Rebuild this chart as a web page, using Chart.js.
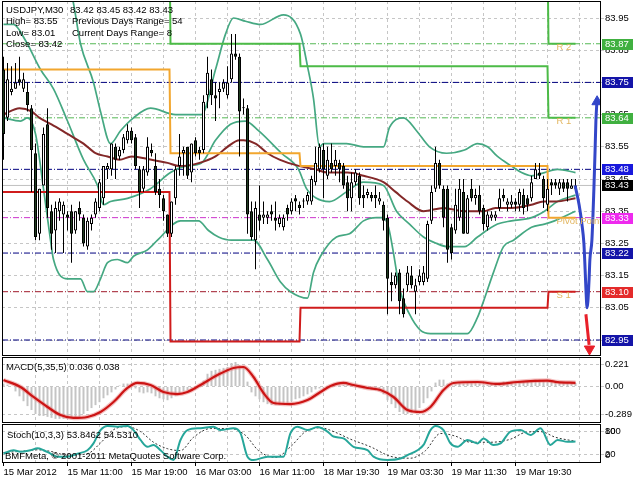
<!DOCTYPE html>
<html>
<head>
<meta charset="utf-8">
<title>USDJPY,M30</title>
<script src="https://cdn.jsdelivr.net/npm/chart.js@4.4.1/dist/chart.umd.min.js"></script>
<style>
html,body{margin:0;padding:0;background:#fff;}
body{width:640px;height:480px;position:relative;overflow:hidden;}
canvas{position:absolute;left:0;display:block;}
#c1{top:0}
#c2{top:356px}
#c3{top:423px}
</style>
</head>
<body>
<canvas id="c1" width="640" height="357"></canvas>
<canvas id="c2" width="640" height="67"></canvas>
<canvas id="c3" width="640" height="57"></canvas>
<script>
// ================= DATA =================
const opens = [83.79,83.64,83.72,83.73,83.76,83.73,83.72,83.67,83.53,83.28,
83.43,83.62,83.35,83.29,83.35,83.34,83.34,83.35,83.29,83.36,
83.33,83.24,83.31,83.34,83.36,83.39,83.48,83.48,83.55,83.52,
83.54,83.57,83.60,83.58,83.48,83.42,83.47,83.54,83.49,83.42,
83.39,83.34,83.28,83.39,83.49,83.53,83.55,83.47,83.57,83.54,
83.54,83.71,83.76,83.71,83.72,83.73,83.71,83.76,83.84,83.83,
83.67,83.67,83.35,83.26,83.34,83.33,83.33,83.35,83.33,83.31,
83.30,83.36,83.35,83.39,83.37,83.38,83.38,83.38,83.44,83.48,
83.54,83.46,83.50,83.49,83.50,83.49,83.44,83.39,83.44,83.46,
83.40,83.40,83.40,83.40,83.38,83.37,83.33,83.13,83.12,83.16,
83.08,83.12,83.15,83.10,83.13,83.13,83.14,83.32,83.42,83.50,
83.42,83.42,83.30,83.29,83.33,83.41,83.28,83.42,83.39,83.40,
83.36,83.30,83.33,83.33,83.36,83.40,83.37,83.37,83.38,83.37,
83.40,83.39,83.39,83.45,83.47,83.45,83.37,83.44,83.44,83.42,
83.44,83.44,83.42,83.42];
const highs = [83.83,83.81,83.80,83.81,83.83,83.78,83.75,83.68,83.56,83.42,
83.61,83.67,83.37,83.38,83.39,83.38,83.35,83.37,83.35,83.38,
83.34,83.33,83.34,83.39,83.45,83.49,83.50,83.56,83.56,83.55,
83.59,83.62,83.61,83.59,83.49,83.49,83.58,83.56,83.53,83.45,
83.40,83.34,83.38,83.49,83.59,83.55,83.55,83.56,83.58,83.55,
83.71,83.83,83.79,83.75,83.75,83.76,83.80,83.90,83.90,83.84,
83.70,83.68,83.38,83.38,83.43,83.38,83.35,83.37,83.38,83.34,
83.34,83.37,83.39,83.40,83.38,83.39,83.41,83.46,83.55,83.56,
83.56,83.55,83.56,83.54,83.51,83.50,83.46,83.47,83.48,83.47,
83.43,83.42,83.41,83.43,83.41,83.38,83.34,83.16,83.16,83.17,
83.11,83.18,83.18,83.14,83.17,83.18,83.32,83.43,83.55,83.51,
83.43,83.43,83.31,83.42,83.45,83.45,83.40,83.45,83.42,83.43,
83.37,83.35,83.35,83.35,83.42,83.42,83.39,83.40,83.39,83.42,
83.42,83.40,83.46,83.50,83.50,83.46,83.45,83.45,83.45,83.45,
83.45,83.45,83.45,83.45];
const lows = [83.51,83.63,83.71,83.73,83.74,83.72,83.66,83.41,83.26,83.26,
83.43,83.33,83.23,83.22,83.32,83.22,83.29,83.19,83.28,83.32,
83.24,83.23,83.29,83.33,83.35,83.37,83.45,83.46,83.45,83.51,
83.53,83.56,83.56,83.48,83.36,83.41,83.46,83.52,83.40,83.36,
83.32,83.27,83.27,83.37,83.46,83.46,83.45,83.44,83.52,83.51,
83.53,83.67,83.68,83.63,83.67,83.72,83.70,83.75,83.82,83.52,
83.65,83.28,83.26,83.17,83.29,83.31,83.31,83.32,83.29,83.30,
83.29,83.32,83.34,83.35,83.34,83.36,83.37,83.37,83.43,83.47,
83.39,83.45,83.47,83.46,83.44,83.42,83.35,83.35,83.43,83.37,
83.36,83.39,83.38,83.36,83.37,83.29,83.03,83.07,83.11,83.03,
83.02,83.10,83.11,83.03,83.12,83.12,83.13,83.31,83.41,83.42,
83.30,83.19,83.20,83.28,83.32,83.28,83.28,83.38,83.37,83.34,
83.29,83.29,83.32,83.32,83.35,83.38,83.35,83.36,83.35,83.35,
83.34,83.35,83.38,83.45,83.45,83.36,83.35,83.40,83.42,83.40,
83.41,83.38,83.42,83.42];
const closes = [83.59,83.76,83.73,83.75,83.75,83.76,83.68,83.54,83.27,83.42,
83.59,83.36,83.28,83.36,83.38,83.37,83.33,83.28,83.35,83.34,
83.25,83.32,83.33,83.38,83.44,83.49,83.49,83.56,83.51,83.54,
83.58,83.60,83.57,83.49,83.41,83.48,83.55,83.53,83.41,83.40,
83.35,83.28,83.38,83.48,83.52,83.54,83.46,83.56,83.53,83.53,
83.69,83.78,83.71,83.70,83.73,83.75,83.75,83.84,83.83,83.66,
83.67,83.34,83.27,83.36,83.32,83.34,83.34,83.34,83.32,83.33,
83.33,83.34,83.38,83.38,83.36,83.38,83.40,83.45,83.50,83.55,
83.48,83.51,83.48,83.51,83.48,83.43,83.39,83.44,83.47,83.39,
83.39,83.41,83.39,83.39,83.39,83.32,83.14,83.12,83.15,83.07,
83.03,83.16,83.12,83.12,83.15,83.16,83.31,83.41,83.50,83.43,
83.33,83.23,83.22,83.37,83.42,83.28,83.39,83.39,83.40,83.35,
83.31,83.34,83.34,83.34,83.39,83.39,83.38,83.38,83.37,83.41,
83.36,83.37,83.44,83.48,83.46,83.39,83.42,83.43,83.43,83.44,
83.42,83.42,83.43,83.43];

const timeLabels = ['15 Mar 2012','15 Mar 11:00','15 Mar 19:00','16 Mar 03:00','16 Mar 11:00',
                    '18 Mar 19:30','19 Mar 03:30','19 Mar 11:30','19 Mar 19:30'];
const labelBars = [0,16,32,48,64,80,96,112,128];
const gridBars = [0,8,16,24,32,40,48,56,64,72,80,88,96,104,112,120,128,136,144];
const priceTicks = [83.95,83.85,83.75,83.65,83.55,83.45,83.35,83.25,83.15,83.05,82.95];

// moving average (dark red)
const maAt = [0,4,7,9,12,16,20,23,26,29,32,37,41,44,49,53,56,59,60,63,66,69,74,78,81,86,90,95,98,101,105,110,115,120,123,127,132,135,138,143];
const ma = [83.65,83.67,83.66,83.64,83.62,83.59,83.56,83.53,83.52,83.51,83.52,83.51,83.50,83.49,83.50,83.52,83.55,83.57,83.57,83.56,
83.53,83.51,83.49,83.48,83.47,83.47,83.46,83.44,83.41,83.38,83.35,83.36,83.35,83.35,83.36,83.36,83.37,83.38,83.38,83.39];

// Bollinger bands
const bbUpperAt = [14,17.25,19.25,22.5,24.25,26.75,29.25,32.5,36.75,43,49.5,53,55.5,57.5,60.5,64.25,70,74.25,76,77.5,
79,80,85.75,90,95,96.5,100,103.25,106.5,110.75,115.25,118.5,121,123.5,127,129.5,132,135.25,138.5,143];
const bbUpper = [84.12,84.01,83.87,83.75,83.66,83.56,83.60,83.64,83.67,83.65,83.65,83.79,83.90,83.95,83.94,83.93,83.96,83.90,83.80,83.70,
83.55,83.56,83.56,83.55,83.55,83.61,83.64,83.60,83.55,83.53,83.54,83.56,83.55,83.52,83.49,83.47,83.46,83.47,83.48,83.47];
const bbMidAt = [0,2.5,5.5,9.25,12.5,16,20,23.5,25,26.75,31,36.75,41.75,45.5,49.5,53,56.75,60.5,63.75,69.5,
73.75,75.75,78.25,81.5,85.75,90,95,98.25,101.5,105,108.25,111,115.25,118.5,123.5,127,132,135.25,138.5,143];
const bbMid = [83.93,83.93,83.88,83.79,83.73,83.63,83.51,83.43,83.37,83.38,83.39,83.42,83.47,83.49,83.50,83.57,83.62,83.63,83.60,83.53,
83.48,83.42,83.39,83.38,83.41,83.44,83.43,83.35,83.31,83.27,83.25,83.24,83.24,83.27,83.31,83.32,83.33,83.35,83.38,83.40];
const bbLowerAt = [0,4.25,6,8,10,11.75,12.5,16,19.25,21,22.5,24.25,26,28.5,31,32.5,36,38.5,44.25,48.75,
51.25,53.75,57,62.5,66,69.25,71.75,76,77.5,79.25,83.25,86.5,90,93.25,95,96.25,97.5,99,101.5,104.25,
106.75,116,118.5,120,122.5,125,127.5,132,135.25,137.75,143];
const bbLower = [83.64,83.63,83.64,83.59,83.42,83.26,83.20,83.14,83.14,83.10,83.10,83.14,83.19,83.20,83.19,83.21,83.23,83.26,83.32,83.32,
83.29,83.27,83.26,83.26,83.20,83.13,83.10,83.08,83.16,83.21,83.27,83.28,83.32,83.33,83.33,83.30,83.22,83.11,83.03,82.98,
82.97,82.97,83.02,83.07,83.16,83.24,83.26,83.30,83.31,83.32,83.35];

// daily pivot levels
const dayStart = [-0.4, 41.75, 74.25, 136.25];
const dayEnd = [41.5, 74, 136, 143];
const pivotR2 = [84.45, 84.30, 84.15, 83.87];
const pivotR1 = [84.20, 83.87, 83.80, 83.64];
const pivotP  = [83.79, 83.53, 83.49, 83.33];
const pivotS1 = [83.41, 82.945, 83.05, 83.10];

// horizontal levels and current price
const levelPrices = [83.87, 83.75, 83.64, 83.48, 83.33, 83.22, 83.10, 82.95];
const lastPrice = 83.43;

// projection arrows
const blueArrowAt = [142.9,143.9,144.6,145.1,145.4,145.6,145.9,146.1,146.4,146.6,147.1,147.6,147.9,148.1,148.4];
const blueArrow = [83.43,83.37,83.31,83.25,83.17,83.11,83.05,83.07,83.14,83.20,83.26,83.42,83.54,83.63,83.70];
const redArrowAt = [145.6,146.1,146.4];
const redArrow = [83.03,82.97,82.935];
const arrowHeadAt = [148.4, 146.5];
const arrowHead = [83.69, 82.922];

// MACD(5,35,5)
const macdMain = [0.03,0.02,0.00,-0.05,-0.10,-0.15,-0.20,-0.24,-0.28,-0.30,
-0.30,-0.31,-0.32,-0.33,-0.33,-0.33,-0.33,-0.32,-0.32,-0.31,
-0.28,-0.25,-0.22,-0.19,-0.16,-0.12,-0.09,-0.06,-0.03,0.01,
0.03,0.03,0.02,-0.02,-0.06,-0.07,-0.06,-0.07,-0.10,-0.12,
-0.13,-0.14,-0.12,-0.10,-0.07,-0.05,-0.04,-0.02,0.00,0.01,
0.06,0.13,0.16,0.17,0.18,0.19,0.20,0.24,0.25,0.22,
0.20,0.05,-0.06,-0.10,-0.13,-0.16,-0.18,-0.19,-0.19,-0.19,
-0.18,-0.17,-0.15,-0.13,-0.12,-0.10,-0.08,-0.06,-0.03,-0.02,
-0.01,-0.02,0.00,0.00,0.01,0.02,0.02,0.02,0.02,-0.01,
-0.02,-0.03,-0.03,-0.04,-0.05,-0.08,-0.14,-0.18,-0.22,-0.26,
-0.28,-0.28,-0.27,-0.25,-0.22,-0.17,-0.12,-0.05,0.04,0.07,
0.07,0.03,0.01,0.02,0.04,0.03,0.04,0.04,0.04,0.03,
0.02,0.02,0.03,0.03,0.04,0.05,0.05,0.05,0.05,0.05,
0.05,0.05,0.06,0.07,0.07,0.06,0.05,0.05,0.05,0.04,
0.04,0.04,0.04,0.036];
const macdSignalAt = [0,4.25,7.5,11,14.25,17.5,21,24.25,27.5,31,33.5,36.75,40,43.5,46,49.25,53.5,57.5,60,62.5,65,67.5,71.75,76,79.25,
81.75,85,87.5,91,94.25,97.5,101,104.25,106.75,110,112.5,118.5,123.5,128.5,136,138.5,143];
const macdSignal = [0.066,-0.005,-0.107,-0.209,-0.291,-0.321,-0.311,-0.260,-0.158,-0.015,0.036,0.015,-0.056,-0.077,-0.056,0.015,0.117,0.189,0.199,0.097,-0.066,-0.168,-0.179,-0.138,-0.056,
0.005,0.036,0.015,-0.015,-0.036,-0.107,-0.240,-0.260,-0.209,-0.036,0.036,0.046,0.026,0.046,0.060,0.045,0.038];
const macdTicks = [0.221, 0, -0.289];

// Stochastic(10,3,3)
const stochAt = [0,2.5,4.25,6.75,8.5,10,11.75,13.5,16,18.5,21,22.5,24.25,26,28.5,31,32.5,34.25,36,37.5,39.25,41,42.5,44.25,46,49.25,52.5,54.25,57.5,59.25,
61,62.5,66,70,71.75,73.5,76,78.5,81,82.5,85,87.5,91,92.5,96,99.25,101,103.5,105,106.75,108,110,111.75,113.5,116,118.5,120,122.5,124.25,126.75,129.25,131.75,134.25,136.75,138.5,141,143];
const stochMain = [22,31,27,31,36,31,22,14,14,22,31,49,84,95,93,95,84,58,40,45,31,14,5,58,84,89,93,84,89,76,
14,5,14,14,76,93,84,92,80,67,62,40,31,14,5,9,18,31,45,84,95,84,49,40,58,49,62,45,49,80,84,71,89,45,58,53,53.85];
const stochSigAt = [0,4.25,8.5,11.75,16,21,24.25,27.5,31,34.25,37.5,41,44.25,47.5,51.75,56.75,60.5,63.75,68,71.75,75.5,79.25,83,86.75,91.75,96.75,101.75,105.5,109.25,113,116.75,121.75,126.75,130.5,134.25,138,143];
const stochSig = [25,28,32,28,18,22,50,85,93,80,52,35,30,65,88,88,70,30,12,40,80,90,78,60,40,15,10,30,75,68,52,52,60,78,80,65,54.53];
const stochTicks = [80, 20];

// ================= RENDERING =================
const FAMILY = "'Liberation Sans', Arial, sans-serif";
const FSIZE = 9.5;
Chart.defaults.font.family = FAMILY;
Chart.defaults.font.size = FSIZE;
Chart.defaults.color = '#000';
Chart.defaults.animation = false;
Chart.defaults.plugins.legend.display = false;
Chart.defaults.plugins.tooltip.enabled = false;
Chart.defaults.elements.point.hoverRadius = 0;
Chart.defaults.elements.point.radius = 0;

const X_MIN = -0.375, X_MAX = 149.125;
const GRID = '#c6c6c6';
const CLEAR = 'rgba(0,0,0,0)';

const pts = (xs, ys) => xs.map((x, k) => ({x, y: ys[k]}));
const steps = vals => vals.flatMap((v, d) => [{x: dayStart[d], y: v}, {x: dayEnd[d], y: v}]);
const hline = v => [{x: X_MIN, y: v}, {x: X_MAX, y: v}];

function xAxis(showLabels) {
  return {
    type: 'linear', min: X_MIN, max: X_MAX, offset: false,
    afterBuildTicks: s => { s.ticks = gridBars.map(v => ({value: v})); },
    grid: {
      offset: false,
      color: c => (c.tick && c.tick.value === 0) ? CLEAR : GRID,
      drawTicks: showLabels, tickLength: 4,
      tickColor: c => (c.tick && labelBars.includes(c.tick.value)) ? '#000' : CLEAR
    },
    border: {display: false, dash: [3, 3]},
    ticks: {
      display: showLabels, autoSkip: false, maxRotation: 0, minRotation: 0, align: 'start', padding: 1,
      callback: v => { const k = labelBars.indexOf(v); return k >= 0 ? timeLabels[k] : ''; }
    },
    afterFit: s => { s.height = showLabels ? 18 : 0; s.paddingLeft = 0; s.paddingRight = 0; }
  };
}
function yAxis(min, max, ticks, fmt) {
  return {
    type: 'linear', position: 'right', min, max,
    afterBuildTicks: s => { s.ticks = ticks.map(v => ({value: v})); },
    afterFit: s => { s.width = 40; s.paddingTop = 0; s.paddingBottom = 0; },
    grid: {color: GRID, tickLength: 4, tickColor: GRID},
    border: {display: false, dash: [3, 3]},
    ticks: {autoSkip: false, padding: 1, callback: fmt, color: '#000'}
  };
}
const frame = {
  id: 'frame',
  afterDraw(ch) {
    const a = ch.chartArea, c = ch.ctx;
    c.save(); c.strokeStyle = '#000'; c.lineWidth = 1;
    c.strokeRect(a.left + 0.5, a.top + 0.5, a.right - a.left, a.bottom - a.top);
    c.restore();
  }
};
function text(c, s, x, y, color, align) {
  c.fillStyle = color || '#000'; c.textAlign = align || 'left'; c.textBaseline = 'middle';
  c.fillText(s, x, y);
}

// ---------- main price chart ----------
const idx = opens.map((_, i) => i);
const bullBody = '#ffffff', bearBody = '#1f3d1f';
const levelLineColors = ['#55b855','#000080','#55b855','#000080','#cc33cc','#000080','#a01a2a','#000080'];
const levelBoxColors  = ['#40b040','#1414a8','#40b040','#1818dc','#ee2aee','#1414a8','#e42a2a','#1414a8'];
const DASHDOT = [6, 2, 1, 2];

const mainDatasets = [];
levelPrices.forEach((v, k) => mainDatasets.push({
  type: 'line', data: hline(v), borderColor: levelLineColors[k], borderWidth: 1,
  borderDash: DASHDOT, pointRadius: 0, order: 30
}));
mainDatasets.push({type: 'line', data: hline(lastPrice), borderColor: '#c0c0c0', borderWidth: 1, pointRadius: 0, order: 29});
[[bbUpperAt, bbUpper], [bbMidAt, bbMid], [bbLowerAt, bbLower]].forEach(([xs, ys]) => mainDatasets.push({
  type: 'line', data: pts(xs, ys), borderColor: '#45a882', borderWidth: 1.7, pointRadius: 0,
  cubicInterpolationMode: 'monotone', order: 20
}));
mainDatasets.push({type: 'line', data: pts(maAt, ma), borderColor: '#832828', borderWidth: 2, pointRadius: 0,
  cubicInterpolationMode: 'monotone', order: 19});
[[pivotR2, '#4cbb47'], [pivotR1, '#4cbb47'], [pivotP, '#f2a62e'], [pivotS1, '#d01c1c']].forEach(([vals, col]) => mainDatasets.push({
  type: 'line', data: steps(vals), borderColor: col, borderWidth: 2, pointRadius: 0, order: 15
}));
mainDatasets.push({
  type: 'bar', data: idx.map(i => ({x: i, y: [lows[i], highs[i]]})),
  backgroundColor: '#000', barThickness: 1, grouped: false, inflateAmount: 0, borderWidth: 0, order: 6
});
mainDatasets.push({
  type: 'bar', data: idx.map(i => ({x: i, y: [Math.min(opens[i], closes[i]), Math.max(opens[i], closes[i])]})),
  backgroundColor: idx.map(i => closes[i] >= opens[i] ? bullBody : bearBody),
  borderColor: '#000', borderWidth: 1, borderSkipped: false, minBarLength: 1,
  barThickness: 3, grouped: false, inflateAmount: 0, order: 5
});
mainDatasets.push({type: 'line', data: pts(blueArrowAt, blueArrow), borderColor: '#3346c8', borderWidth: 3,
  pointRadius: 0, cubicInterpolationMode: 'monotone', order: 2});
mainDatasets.push({type: 'line', data: pts(redArrowAt, redArrow), borderColor: '#e8202a', borderWidth: 3,
  pointRadius: 0, order: 2});
mainDatasets.push({type: 'line', data: [{x: arrowHeadAt[0], y: arrowHead[0]}], showLine: false,
  pointStyle: 'triangle', pointRadius: 6, pointRotation: 0, pointBackgroundColor: '#3346c8', pointBorderColor: '#3346c8', order: 1});
mainDatasets.push({type: 'line', data: [{x: arrowHeadAt[1], y: arrowHead[1]}], showLine: false,
  pointStyle: 'triangle', pointRadius: 6, pointRotation: 180, pointBackgroundColor: '#e8202a', pointBorderColor: '#e8202a', order: 1});

const mainOverlay = {
  id: 'mainOverlay',
  afterDraw(ch) {
    const c = ch.ctx, a = ch.chartArea, ys = ch.scales.y, xs = ch.scales.x;
    c.save();
    c.font = FSIZE + 'px ' + FAMILY;
    c.save();
    c.beginPath(); c.rect(a.left, a.top, a.right - a.left, a.bottom - a.top); c.clip();
    const lx = xs.getPixelForValue(dayStart[3] + 2);
    [['R 2', pivotR2[3]], ['R 1', pivotR1[3]], ['Pivot Point', pivotP[3]], ['S 1', pivotS1[3]]].forEach(([t, v]) =>
      text(c, t, lx, ys.getPixelForValue(v) + 3.5, '#e2b55e'));
    c.restore();
    text(c, 'USDJPY,M30', 6, 10);
    text(c, '83.42 83.45 83.42 83.43', 70, 10);
    text(c, 'High= 83.55', 6, 21.5);
    text(c, 'Previous Days Range= 54', 72, 21.5);
    text(c, 'Low= 83.01', 6, 33);
    text(c, 'Current Days Range= 8', 72, 33);
    text(c, 'Close= 83.42', 6, 44.5);
    c.restore();
  }
};
const mainBoxes = {
  id: 'mainBoxes',
  afterDraw(ch) {
    const c = ch.ctx, ys = ch.scales.y;
    c.save();
    c.font = FSIZE + 'px ' + FAMILY;
    const box = (v, bg) => {
      const y = Math.round(ys.getPixelForValue(v));
      c.fillStyle = bg; c.fillRect(602, y - 5, 31, 11);
      text(c, v.toFixed(2), 605, y + 0.5, '#ffffff');
    };
    levelPrices.forEach((v, k) => box(v, levelBoxColors[k]));
    box(lastPrice, '#000000');
    c.restore();
  }
};

new Chart(document.getElementById('c1'), {
  type: 'bar',
  data: {datasets: mainDatasets},
  options: {
    responsive: false, maintainAspectRatio: false,
    layout: {autoPadding: false, padding: {left: 2, top: 1, right: 0, bottom: 2}},
    scales: {
      x: xAxis(false),
      y: yAxis(82.90342, 84.0028, priceTicks, v => v.toFixed(2))
    }
  },
  plugins: [frame, mainOverlay, mainBoxes]
});

// ---------- MACD ----------
new Chart(document.getElementById('c2'), {
  type: 'bar',
  data: {datasets: [
    {type: 'line', data: pts(macdSignalAt, macdSignal), borderColor: '#cc1414', borderWidth: 2.2,
     pointRadius: 0, cubicInterpolationMode: 'monotone', order: 1},
    {type: 'line', data: pts(macdSignalAt, macdSignal), borderColor: 'rgba(236,130,130,0.5)', borderWidth: 4.5,
     pointRadius: 0, cubicInterpolationMode: 'monotone', order: 2},
    {type: 'bar', data: macdMain.map((v, i) => ({x: i, y: v})), backgroundColor: '#c4c4c4',
     barThickness: 2, grouped: false, inflateAmount: 0, borderWidth: 0, order: 3}
  ]},
  options: {
    responsive: false, maintainAspectRatio: false,
    layout: {autoPadding: false, padding: {left: 2, top: 1, right: 0, bottom: 1}},
    scales: {
      x: xAxis(false),
      y: yAxis(-0.3622, 0.3010, macdTicks, v => v === 0 ? '0.00' : String(v))
    }
  },
  plugins: [frame, {
    id: 'macdText',
    afterDraw(ch) {
      const c = ch.ctx; c.save(); c.font = FSIZE + 'px ' + FAMILY;
      text(c, 'MACD(5,35,5) 0.036 0.038', 6, 11.5);
      c.restore();
    }
  }]
});

// ---------- Stochastic ----------
new Chart(document.getElementById('c3'), {
  type: 'line',
  data: {datasets: [
    {data: pts(stochAt, stochMain), borderColor: '#26a69a', borderWidth: 2, pointRadius: 0,
     cubicInterpolationMode: 'monotone', order: 1},
    {data: pts(stochSigAt, stochSig), borderColor: '#333333', borderWidth: 1, borderDash: [2, 2], pointRadius: 0,
     cubicInterpolationMode: 'monotone', order: 2}
  ]},
  options: {
    responsive: false, maintainAspectRatio: false,
    layout: {autoPadding: false, padding: {left: 2, top: 1, right: 0, bottom: 0}},
    scales: {
      x: xAxis(true),
      y: yAxis(0, 100, stochTicks, v => String(v))
    }
  },
  plugins: [frame, {
    id: 'stochText',
    afterDraw(ch) {
      const c = ch.ctx; c.save(); c.font = FSIZE + 'px ' + FAMILY;
      text(c, 'Stoch(10,3,3) 53.8462 54.5310', 7, 12);
      text(c, 'BMFMeta, \u00A9 2001-2011 MetaQuotes Software Corp.', 5, 33);
      text(c, '100', 605, 8);
      text(c, '0', 605, 32.5);
      c.restore();
    }
  }]
});
</script>
</body>
</html>
